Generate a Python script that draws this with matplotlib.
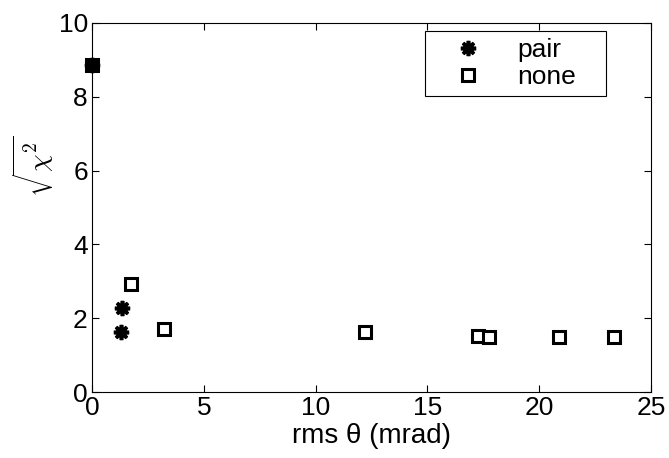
import matplotlib
matplotlib.use("Agg")
import matplotlib.pyplot as plt

plt.rcParams['font.family'] = ['Liberation Sans', 'DejaVu Sans']
plt.rcParams['mathtext.fontset'] = 'cm'

# data
pair_x = [0.0, 1.34, 1.30]
pair_y = [8.85, 2.27, 1.62]
none_x = [0.0, 1.74, 3.22, 12.2, 17.26, 17.75, 20.9, 23.35]
none_y = [8.85, 2.93, 1.70, 1.64, 1.53, 1.48, 1.48, 1.48]

fig = plt.figure(figsize=(6.69, 4.58), dpi=100)
ax = fig.add_axes([0.1375, 0.144, 0.8355, 0.806])

ax.plot(pair_x, pair_y, linestyle='none', marker=(8, 2, 0), markersize=11,
        markeredgewidth=2.6, color='black', label='pair', zorder=4, clip_on=False)
ax.plot(none_x, none_y, linestyle='none', marker='s', markersize=9,
        markerfacecolor='white', markeredgecolor='black', markeredgewidth=2.2,
        label='none', zorder=3, clip_on=False)

ax.set_xlim(0, 25)
ax.set_ylim(0, 10)
ax.set_xticks([0, 5, 10, 15, 20, 25])
ax.set_yticks([0, 2, 4, 6, 8, 10])
ax.tick_params(direction='in', top=True, right=True, labelsize=19, length=5,
               width=0.8, pad=3)
for s in ax.spines.values():
    s.set_linewidth(0.8)

ax.set_xlabel('rms θ (mrad)', fontsize=20, labelpad=2)
ax.set_ylabel(r'$\sqrt{\chi^2}$', fontsize=20, va='center')
ax.yaxis.set_label_coords(-0.105, 0.61)

leg = ax.legend(loc='upper left', bbox_to_anchor=(0.596, 0.0, 0.3235, 0.978),
                mode='expand', fontsize=19,
                frameon=True, fancybox=False, edgecolor='black', framealpha=1,
                handletextpad=0.5, borderpad=0.28, labelspacing=0.1,
                handlelength=2.7, borderaxespad=0)
leg.get_frame().set_linewidth(0.8)

fig.savefig('out.png', dpi=100)
